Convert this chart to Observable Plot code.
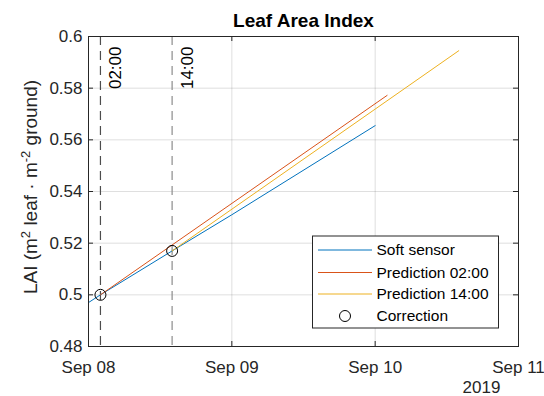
<!DOCTYPE html>
<html><head><meta charset="utf-8">
<script src="https://cdn.jsdelivr.net/npm/d3@7"></script>
<script src="https://cdn.jsdelivr.net/npm/@observablehq/plot@0.6"></script>
<style>
body{margin:0;background:#fff}
svg{font-family:"Liberation Sans",Arial,sans-serif}
</style>
</head><body><div id="chart"></div>
<script>
// ---- data ----
const softTimes = ["2019-09-08T00:00Z","2019-09-08T02:00Z","2019-09-08T14:00Z","2019-09-09T00:00Z","2019-09-10T00:00Z"];
const softValues = [0.497, 0.500, 0.517, 0.531, 0.5655];
const pred02Times = ["2019-09-08T02:00Z","2019-09-10T02:00Z"];
const pred02Values = [0.500, 0.5772];
const pred14Times = ["2019-09-08T14:00Z","2019-09-10T14:00Z"];
const pred14Values = [0.517, 0.5945];
const corrTimes = ["2019-09-08T02:00Z","2019-09-08T14:00Z"];
const corrValues = [0.500, 0.517];
const eventTimes = ["2019-09-08T02:00Z","2019-09-08T14:00Z"];
const eventLabels = ["02:00","14:00"];
const xTickDates = ["2019-09-08T00:00Z","2019-09-09T00:00Z","2019-09-10T00:00Z","2019-09-11T00:00Z"];
const yTicks = [0.48, 0.50, 0.52, 0.54, 0.56, 0.58, 0.60];
const legendLabels = ["Soft sensor","Prediction 02:00","Prediction 14:00","Correction"];
const titleText = "Leaf Area Index";
const yLabelText = "LAI (m2 leaf · m-2 ground)";
const yearText = "2019";

// ---- build ----
const toRows = (ts, vs) => ts.map((t, i) => ({t: new Date(t), v: vs[i]}));
const soft = toRows(softTimes, softValues);
const pred02 = toRows(pred02Times, pred02Values);
const pred14 = toRows(pred14Times, pred14Values);
const corr = toRows(corrTimes, corrValues);
const events = eventTimes.map((t, i) => ({t: new Date(t), label: eventLabels[i]}));
const xTicks = xTickDates.map(d => new Date(d));

const W = 544, H = 396, mL = 88, mR = 26, mT = 36, mB = 50;
const fw = W - mL - mR, fh = H - mT - mB;
const axisColor = "#262626";
const blue = "#0072BD", red = "#D95319", yellow = "#EDB120";
const fmt = d3.utcFormat("%b %d");

const plot = Plot.plot({
  width: W, height: H,
  marginLeft: mL, marginRight: mR, marginTop: mT, marginBottom: mB,
  style: {fontFamily: '"Liberation Sans", Arial, sans-serif', background: "#fff", overflow: "visible"},
  x: {type: "utc", domain: [xTicks[0], xTicks[xTicks.length - 1]]},
  y: {domain: [yTicks[0], yTicks[yTicks.length - 1]]},
  marks: [
    Plot.gridX(xTicks, {stroke: axisColor, strokeOpacity: 0.15, strokeWidth: 1}),
    Plot.gridY(yTicks, {stroke: axisColor, strokeOpacity: 0.15, strokeWidth: 1}),
    Plot.ruleX([events[0]], {x: "t", stroke: "#4d4d4d", strokeWidth: 1.2, strokeDasharray: "9,6"}),
    Plot.ruleX([events[1]], {x: "t", stroke: "#8c8c8c", strokeWidth: 1.2, strokeDasharray: "9,6"}),
    Plot.text(events, {x: "t", text: "label", frameAnchor: "top", rotate: -90, textAnchor: "end", lineAnchor: "middle", dx: 15.5, dy: 10, fontSize: 17, fill: "#000"}),
    Plot.line(soft, {x: "t", y: "v", stroke: blue, strokeWidth: 1}),
    Plot.line(pred02, {x: "t", y: "v", stroke: red, strokeWidth: 1}),
    Plot.line(pred14, {x: "t", y: "v", stroke: yellow, strokeWidth: 1}),
    Plot.dot(corr, {x: "t", y: "v", r: 5.5, stroke: "#000", strokeWidth: 1, fill: "none"}),
    // inward ticks on all four sides
    Plot.tickY(yTicks, {y: d => d, stroke: axisColor, insetRight: fw - 5}),
    Plot.tickY(yTicks, {y: d => d, stroke: axisColor, insetLeft: fw - 5}),
    Plot.tickX(xTicks, {x: d => d, stroke: axisColor, insetTop: fh - 5}),
    Plot.tickX(xTicks, {x: d => d, stroke: axisColor, insetBottom: fh - 5}),
    Plot.frame({stroke: axisColor, strokeWidth: 1}),
    Plot.axisX(xTicks, {tickSize: 0, tickPadding: 14, tickFormat: fmt, fontSize: 17, fill: axisColor, label: null}),
    Plot.axisY(yTicks, {tickSize: 0, tickPadding: 6, tickFormat: d => String(+d.toFixed(2)), fontSize: 17, fill: axisColor, label: null}),
    Plot.text([titleText], {frameAnchor: "top", dy: -16, lineAnchor: "middle", textAnchor: "middle", fontWeight: "bold", fontSize: 19, fill: "#000"}),
    Plot.text([yLabelText], {frameAnchor: "left", rotate: -90, dx: -58, dy: -4.5, lineAnchor: "middle", textAnchor: "middle", fontSize: 19, fill: axisColor}),
    Plot.text([yearText], {frameAnchor: "bottom-right", dx: -37, dy: 41, lineAnchor: "middle", textAnchor: "middle", fontSize: 17, fill: axisColor})
  ]
});
document.getElementById("chart").appendChild(plot);

const svg = d3.select(plot);
// superscripts in y label
svg.selectAll("text").filter(function(){ return this.textContent === yLabelText; }).each(function(){
  const t = d3.select(this);
  t.text(null);
  const parts = [["LAI (m", 0], ["2", 1], [" leaf · m", 0], ["-2", 1], [" ground)", 0]];
  let prevSup = 0;
  parts.forEach(([s, sup]) => {
    const sp = t.append("tspan").text(s);
    if (sup) sp.attr("font-size", "13").attr("dy", "-7");
    else if (prevSup) sp.attr("dy", "7");
    prevSup = sup;
  });
});

// legend
const lx = 312.5, ly = 236, lw = 186, lh = 92;
const lg = svg.append("g").attr("text-anchor", "start");
lg.append("rect").attr("x", lx).attr("y", ly).attr("width", lw).attr("height", lh)
  .attr("fill", "#fff").attr("stroke", axisColor).attr("stroke-width", 1);
const rows = [250, 272.5, 294, 316];
const colors = [blue, red, yellow, null];
legendLabels.forEach((lab, i) => {
  const y = rows[i];
  if (colors[i]) {
    lg.append("line").attr("x1", 318).attr("x2", 372).attr("y1", y).attr("y2", y)
      .attr("stroke", colors[i]).attr("stroke-width", 1);
  } else {
    lg.append("circle").attr("cx", 345).attr("cy", y).attr("r", 5.5)
      .attr("fill", "none").attr("stroke", "#000").attr("stroke-width", 1);
  }
  lg.append("text").attr("x", 376.5).attr("y", y).attr("dy", "0.35em")
    .attr("text-anchor", "start")
    .attr("font-size", 15.5).attr("fill", "#000").text(lab);
});
</script>
</body></html>
